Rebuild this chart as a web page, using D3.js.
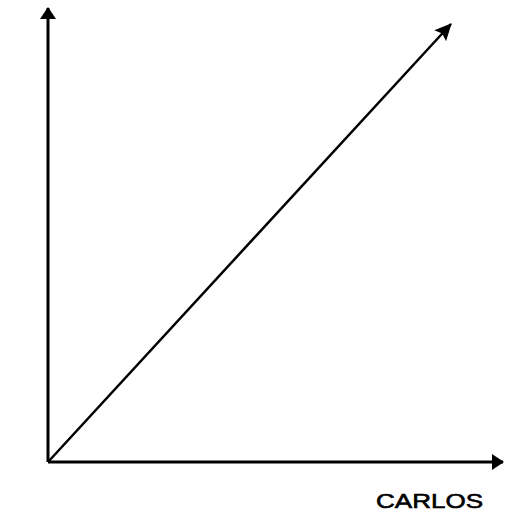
<!DOCTYPE html>
<html>
<head>
<meta charset="utf-8">
<script src="https://cdn.jsdelivr.net/npm/d3@7"></script>
<style>
  html, body { margin: 0; padding: 0; background: #fff; }
</style>
</head>
<body>
<div id="chart"></div>
<script>
// data: a straight line from the origin
var xValues = [0, 1];
var yValues = [0, 1];
var xLabel = "CARLOS";

var width = 505, height = 518;

var x = d3.scaleLinear()
    .domain([0, 1])
    .range([48, 451]);

var y = d3.scaleLinear()
    .domain([0, 1])
    .range([462, 24]);

var line = d3.line()
    .x(function(d){return x(d.x);})
    .y(function(d){return y(d.y);});

var data = xValues.map(function(v, i){ return {x: v, y: yValues[i]}; });

var svg = d3.select("#chart")
    .append("svg")
    .attr("width", width)
    .attr("height", height);

var defs = svg.append("defs");

// arrow heads
defs.append("marker")
    .attr("id", "arrowAxis")
    .attr("markerUnits", "userSpaceOnUse")
    .attr("viewBox", "0 0 12 16")
    .attr("refX", 11)
    .attr("refY", 8)
    .attr("markerWidth", 12)
    .attr("markerHeight", 16)
    .attr("orient", "auto")
    .append("path")
    .attr("d", "M0,0 L12,8 L0,16 Z")
    .style("fill", "#000");

defs.append("marker")
    .attr("id", "arrowLine")
    .attr("markerUnits", "userSpaceOnUse")
    .attr("viewBox", "0 0 17 16")
    .attr("refX", 16)
    .attr("refY", 8)
    .attr("markerWidth", 17)
    .attr("markerHeight", 16)
    .attr("orient", "auto")
    .append("path")
    .attr("d", "M0,0 L17,8 L0,16 L3,8 Z")
    .style("fill", "#000");

// y axis
svg.append("line")
    .attr("x1", x(0))
    .attr("y1", y(0))
    .attr("x2", x(0))
    .attr("y2", 8)
    .attr("marker-end", "url(#arrowAxis)")
    .style("stroke", "#000")
    .style("stroke-width", "3px");

// x axis
svg.append("line")
    .attr("x1", x(0))
    .attr("y1", y(0))
    .attr("x2", 503)
    .attr("y2", y(0))
    .attr("marker-end", "url(#arrowAxis)")
    .style("stroke", "#000")
    .style("stroke-width", "3px");

// the line
svg.append("path")
    .datum(data)
    .attr("d", line)
    .attr("marker-end", "url(#arrowLine)")
    .style("fill", "none")
    .style("stroke", "#000")
    .style("stroke-width", "2.5px");

// axis label
svg.append("text")
    .attr("x", 376)
    .attr("y", 508)
    .attr("textLength", 107)
    .attr("lengthAdjust", "spacingAndGlyphs")
    .style("font-family", "Liberation Sans, Arial, sans-serif")
    .style("font-size", "21px")
    .style("fill", "#000")
    .style("stroke", "#000")
    .style("stroke-width", "0.6px")
    .text(xLabel);
</script>
</body>
</html>
